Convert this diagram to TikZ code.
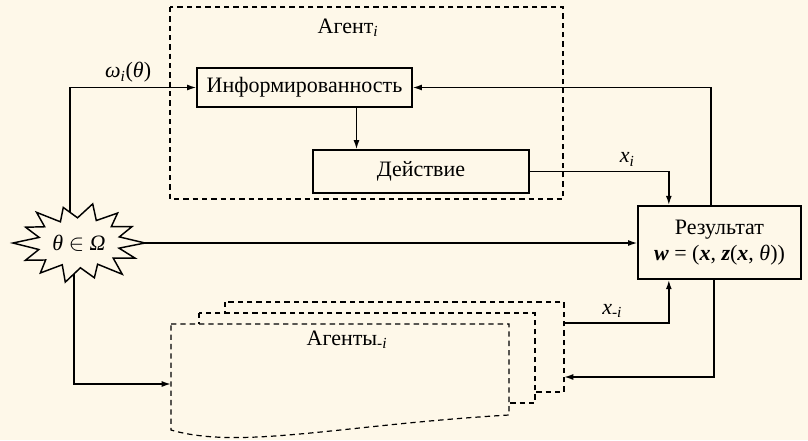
\documentclass[tikz,border=0pt]{standalone}
\usepackage{fontspec}
\setmainfont{Liberation Serif}
\usetikzlibrary{backgrounds,arrows.meta}
\definecolor{paper}{HTML}{FEF8E9}
\tikzset{
  blok/.style={draw,fill=paper,line width=1.1pt,inner sep=2pt},
  ramka/.style={line width=0.9pt,dash pattern=on 4pt off 3pt},
  svyaz/.style={line width=1.2pt,->},
}

\begin{document}
\begin{tikzpicture}[>={Latex[length=7pt,width=4.5pt]},x=0.75pt,y=-0.75pt,
    font=\rmfamily\fontsize{16.5}{20}\selectfont]
  \useasboundingbox (0,0) rectangle (808,440);
  % agent i
  \draw[ramka] (170,7) rectangle (563,199);
  \node (agent) at (348,28) {Агент\textsubscript{\textit{i}}};
  \node[blok,minimum width=161pt,minimum height=29pt] (info) at (304.5,87.5) {Информированность};
  \node[blok,minimum width=162pt,minimum height=32pt] (action) at (421,171.5) {Действие};
  % result
  \node[blok,align=center,minimum width=122pt,minimum height=55pt] (result) at (719.5,242.5)
    {Результат\\ \textbf{\textit{w}} = (\textbf{\textit{x}}, \textbf{\textit{z}}(\textbf{\textit{x}}, \textit{θ}))};
  % other agents
  \draw[ramka,fill=paper] (225,302) rectangle (564,392);
  \draw[ramka,fill=paper] (199,313) rectangle (535,403);
  \draw[ramka,fill=paper] (171,324) -- (509,324) -- (509,415)
    .. controls (340,425) and (240,450) .. (171,430) -- cycle;
  \node (others) at (347,340) {Агенты\textsubscript{-\textit{i}}};
  \coordinate (othin) at (171,384);
  \coordinate (othout) at (564,323);
  \coordinate (othback) at (564,377);
  % state of nature
  \begin{scope}[shift={(79,243)}]
    \draw[fill=paper,line width=1.1pt] (0:66 and 40)
      \foreach \a/\r in {12/.62,24/.93,36/.64,50/1.02,62/.6,75/.9,88/.62,
        102/1.0,115/.6,128/.95,140/.66,152/.92,165/.63,180/1.0,193/.62,
        206/.9,218/.66,230/1.0,242/.6,255/.92,268/.63,282/1.0,295/.62,
        308/.95,320/.64,333/.9,346/.63}
      { -- (\a:{\r*66} and {\r*40}) } -- cycle;
  \end{scope}
  \node (theta) at (79,243) {\textit{θ} $\in$ \textit{Ω}};
  \begin{scope}[on background layer]
    \fill[paper] (0,0) rectangle (808,440);
    \draw[svyaz] ([xshift=-6.75pt]theta.center) |- node[above,pos=0.73]
      {\textit{ω\textsubscript{i}}(\textit{θ})} (info.west);
    \draw[svyaz] ([xshift=-3.75pt]theta.center) |- (othin);
    \draw[svyaz] (theta.center) -- (theta.center -| result.west);
  \end{scope}
  % links
  \draw[svyaz] ([xshift=39pt]info.south) -- ([xshift=39pt]info.south |- action.north);
  \draw[svyaz] (action.east) -| node[above,pos=0.35]{\textit{x\textsubscript{i}}}
    ([xshift=-38pt]result.north);
  \draw[svyaz] ([xshift=-6.4pt]result.north) |- (info.east);
  \draw[svyaz] (othout) -| node[above,pos=0.23]{\textit{x\textsubscript{-i}}}
    ([xshift=-38pt]result.south);
  \draw[svyaz] ([xshift=-4pt]result.south) |- (othback);
\end{tikzpicture}
\end{document}
